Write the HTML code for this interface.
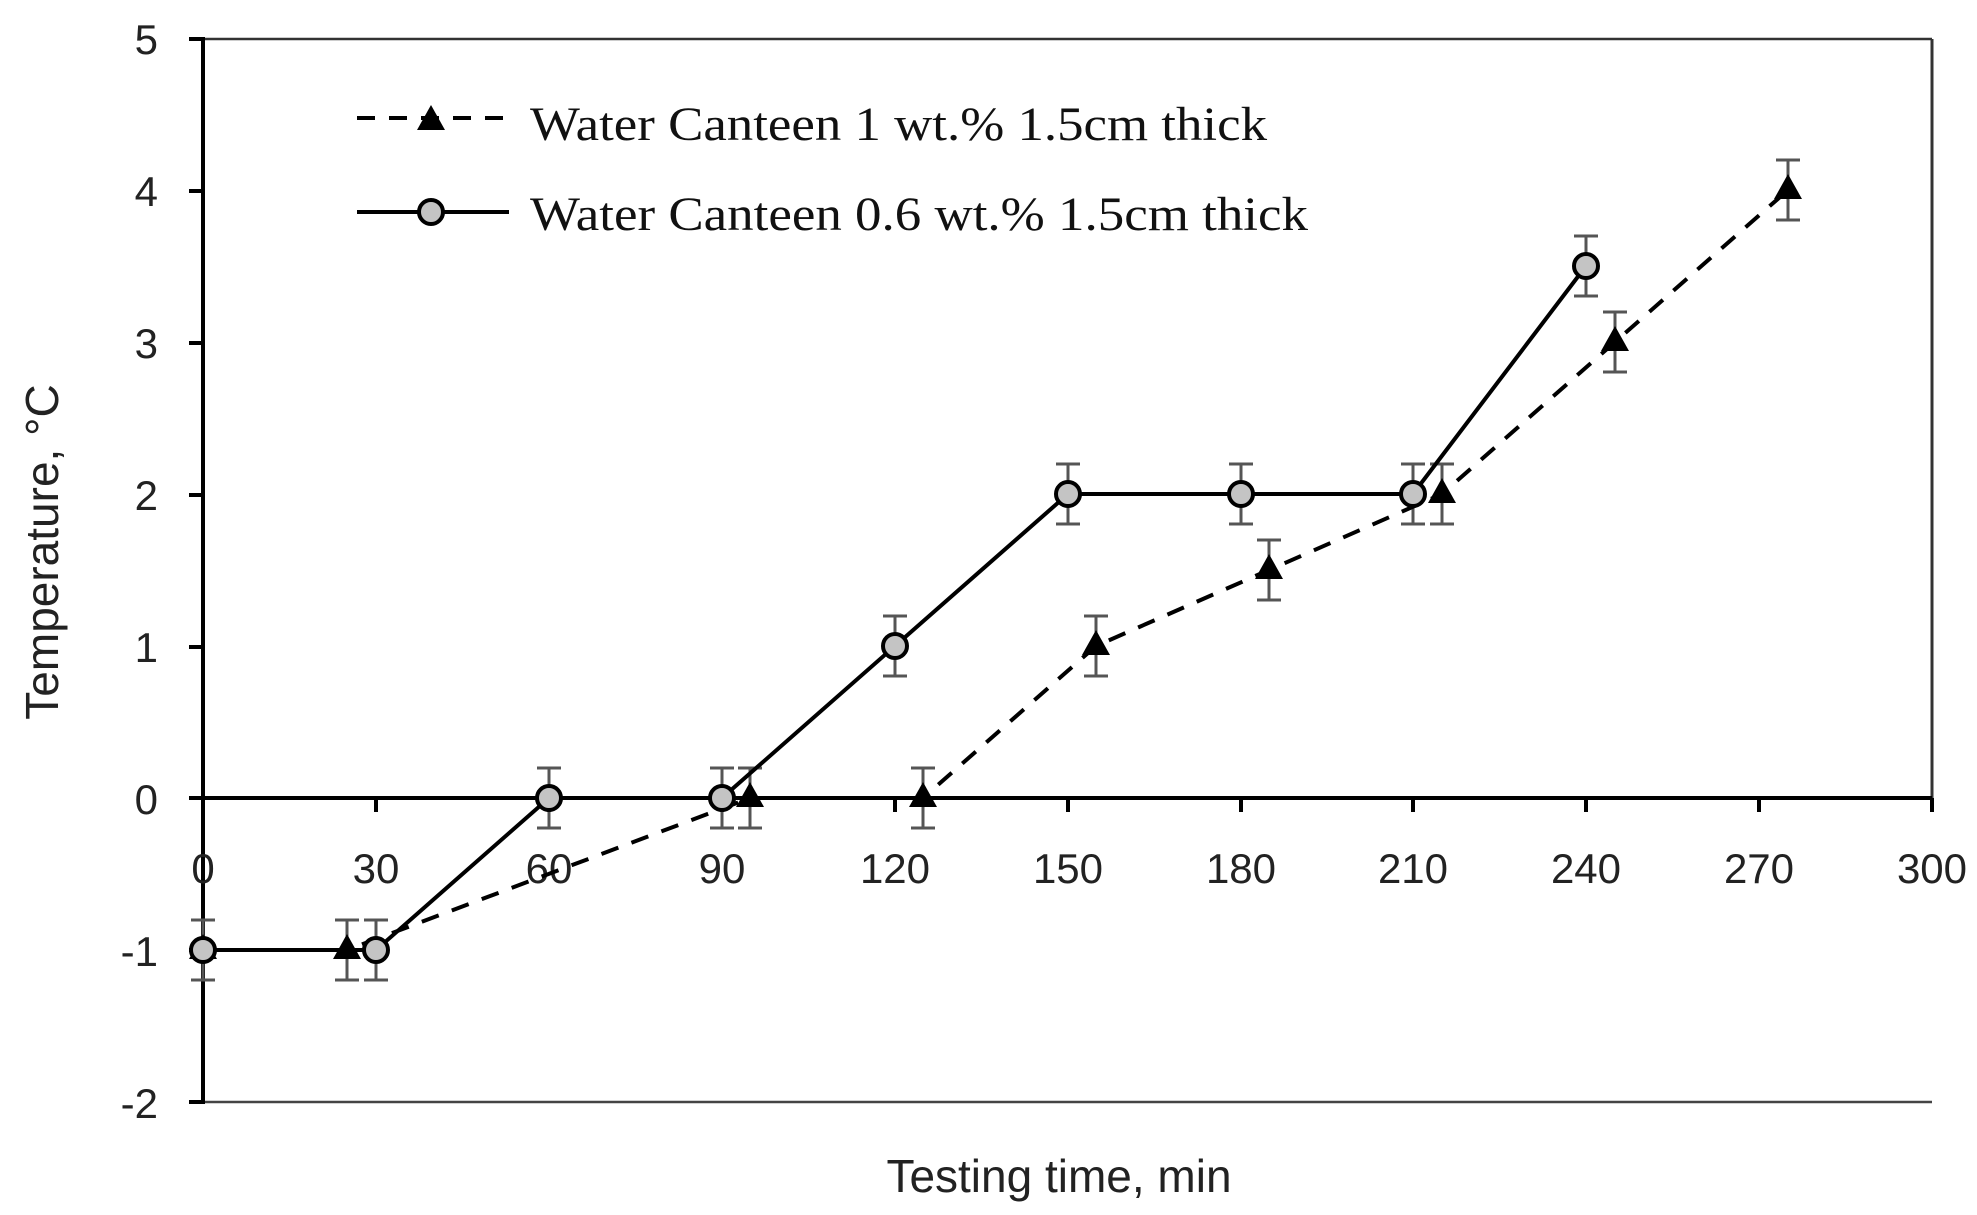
<!DOCTYPE html>
<html><head><meta charset="utf-8"><style>body{margin:0;background:#fff}svg{display:block}</style></head>
<body>
<svg width="1977" height="1215" viewBox="0 0 1977 1215" xmlns="http://www.w3.org/2000/svg">
<rect width="1977" height="1215" fill="#fff"/>
<line x1="203" y1="39" x2="1932" y2="39" stroke="#333" stroke-width="2.5"/>
<line x1="1932" y1="39" x2="1932" y2="812" stroke="#333" stroke-width="3"/>
<line x1="203" y1="1102" x2="1932" y2="1102" stroke="#444" stroke-width="2.5"/>
<line x1="203" y1="37" x2="203" y2="1104" stroke="#000" stroke-width="4"/>
<line x1="203" y1="798" x2="1932" y2="798" stroke="#000" stroke-width="4"/>
<g stroke="#000" stroke-width="4">
<line x1="189" y1="39" x2="203" y2="39"/><line x1="189" y1="191" x2="203" y2="191"/>
<line x1="189" y1="343" x2="203" y2="343"/><line x1="189" y1="495" x2="203" y2="495"/>
<line x1="189" y1="647" x2="203" y2="647"/><line x1="189" y1="798" x2="203" y2="798"/>
<line x1="189" y1="950" x2="203" y2="950"/><line x1="189" y1="1102" x2="203" y2="1102"/>
<line x1="376" y1="798" x2="376" y2="812"/><line x1="549" y1="798" x2="549" y2="812"/>
<line x1="722" y1="798" x2="722" y2="812"/><line x1="895" y1="798" x2="895" y2="812"/>
<line x1="1068" y1="798" x2="1068" y2="812"/><line x1="1241" y1="798" x2="1241" y2="812"/>
<line x1="1413" y1="798" x2="1413" y2="812"/><line x1="1586" y1="798" x2="1586" y2="812"/>
<line x1="1759" y1="798" x2="1759" y2="812"/><line x1="1932" y1="798" x2="1932" y2="812"/>
</g>
<g font-family="Liberation Sans, sans-serif" font-size="42" fill="#222" text-anchor="end">
<text x="158" y="54">5</text><text x="158" y="206">4</text><text x="158" y="358">3</text>
<text x="158" y="510">2</text><text x="158" y="662">1</text><text x="158" y="814">0</text>
<text x="158" y="966">-1</text><text x="158" y="1118">-2</text>
</g>
<g font-family="Liberation Sans, sans-serif" font-size="42" fill="#222" text-anchor="middle">
<text x="203" y="883">0</text><text x="376" y="883">30</text><text x="549" y="883">60</text>
<text x="722" y="883">90</text><text x="895" y="883">120</text><text x="1068" y="883">150</text>
<text x="1241" y="883">180</text><text x="1413" y="883">210</text><text x="1586" y="883">240</text>
<text x="1759" y="883">270</text><text x="1932" y="883">300</text>
</g>
<text x="1059" y="1192" font-family="Liberation Sans, sans-serif" font-size="46" fill="#222" text-anchor="middle">Testing time, min</text>
<text transform="translate(58,552) rotate(-90)" font-family="Liberation Sans, sans-serif" font-size="46" fill="#222" text-anchor="middle">Temperature, °C</text>
<g stroke="#555" stroke-width="3" fill="none">
<path d="M203 920V980M191 920H215M191 980H215"/>
<path d="M347 920V980M335 920H359M335 980H359"/>
<path d="M376 920V980M364 920H388M364 980H388"/>
<path d="M549 768V828M537 768H561M537 828H561"/>
<path d="M722 768V828M710 768H734M710 828H734"/>
<path d="M750 768V828M738 768H762M738 828H762"/>
<path d="M923 768V828M911 768H935M911 828H935"/>
<path d="M895 616V676M883 616H907M883 676H907"/>
<path d="M1096 616V676M1084 616H1108M1084 676H1108"/>
<path d="M1068 464V524M1056 464H1080M1056 524H1080"/>
<path d="M1269 540V600M1257 540H1281M1257 600H1281"/>
<path d="M1241 464V524M1229 464H1253M1229 524H1253"/>
<path d="M1413 464V524M1401 464H1425M1401 524H1425"/>
<path d="M1442 464V524M1430 464H1454M1430 524H1454"/>
<path d="M1586 236V296M1574 236H1598M1574 296H1598"/>
<path d="M1615 312V372M1603 312H1627M1603 372H1627"/>
<path d="M1788 160V220M1776 160H1800M1776 220H1800"/>
</g>
<polyline points="203,950 347,950 750,798 923,798 1096,646 1269,570 1442,494 1615,342 1788,190" fill="none" stroke="#000" stroke-width="4" stroke-dasharray="18,14"/>
<polyline points="203,950 376,950 549,798 722,798 895,646 1068,494 1241,494 1413,494 1586,266" fill="none" stroke="#000" stroke-width="4"/>
<g fill="#000">
<path d="M203 934l14 25h-28z"/><path d="M347 934l14 25h-28z"/><path d="M750 782l14 25h-28z"/>
<path d="M923 782l14 25h-28z"/><path d="M1096 630l14 25h-28z"/><path d="M1269 554l14 25h-28z"/>
<path d="M1442 478l14 25h-28z"/><path d="M1615 326l14 25h-28z"/><path d="M1788 174l14 25h-28z"/>
</g>
<g fill="#c4c4c4" stroke="#000" stroke-width="4">
<circle cx="203" cy="950" r="12"/><circle cx="376" cy="950" r="12"/><circle cx="549" cy="798" r="12"/>
<circle cx="722" cy="798" r="12"/><circle cx="895" cy="646" r="12"/><circle cx="1068" cy="494" r="12"/>
<circle cx="1241" cy="494" r="12"/><circle cx="1413" cy="494" r="12"/><circle cx="1586" cy="266" r="12"/>
</g>
<line x1="357" y1="118" x2="509" y2="118" stroke="#000" stroke-width="4" stroke-dasharray="18,14"/>
<path d="M431 105l14 25h-28z" fill="#000"/>
<line x1="357" y1="212" x2="509" y2="212" stroke="#000" stroke-width="4"/>
<circle cx="431" cy="212" r="12" fill="#c4c4c4" stroke="#000" stroke-width="4"/>
<g font-family="Liberation Serif, serif" font-size="48" fill="#111">
<text x="530" y="140" textLength="737" lengthAdjust="spacingAndGlyphs">Water Canteen 1 wt.% 1.5cm thick</text>
<text x="530" y="230" textLength="778" lengthAdjust="spacingAndGlyphs">Water Canteen 0.6 wt.% 1.5cm thick</text>
</g>
</svg>
</body></html>
